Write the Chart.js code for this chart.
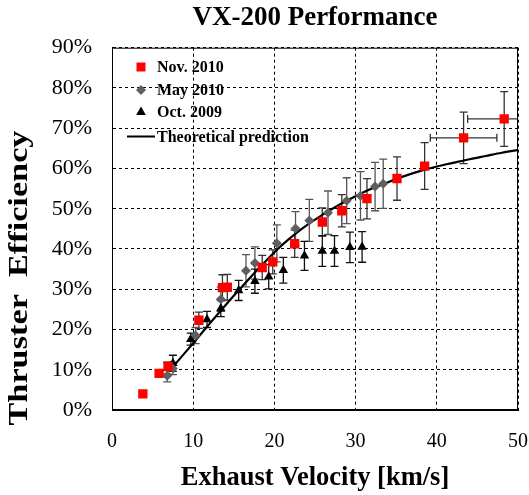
<!DOCTYPE html>
<html>
<head>
<meta charset="utf-8">
<script src="https://cdn.jsdelivr.net/npm/chart.js@4.4.1/dist/chart.umd.min.js"></script>
<style>
  html, body { margin: 0; padding: 0; background: #fff; }
  canvas { display: block; }
</style>
</head>
<body>
<canvas id="perfChart" width="529" height="495"></canvas>
<script>
// Nov. 2010 (red squares)
const novX    = [3.8, 5.8, 6.9, 10.7, 13.6, 14.2, 18.5, 19.8, 22.5, 25.9, 28.3, 31.4, 35.1, 38.5, 43.3, 48.3];
const novY    = [4.0, 9.1, 10.8, 22.3, 30.4, 30.5, 35.4, 36.8, 41.3, 46.7, 49.5, 52.5, 57.5, 60.6, 67.6, 72.3];
const novErrY = [0, 0, 0, 2.0, 3.2, 3.2, 3.0, 3.0, 3.4, 3.5, 4.0, 5.0, 5.4, 5.8, 6.4, 6.8];
const novErrX = [0, 0, 0, 0, 0, 0, 0, 0, 0, 0, 0, 0, 0, 0, 4.1, 4.5];

// May 2010 (grey diamonds)
const mayX    = [6.8, 7.5, 10.3, 13.4, 16.5, 17.6, 20.3, 22.6, 24.3, 26.6, 28.9, 30.6, 32.4, 33.4];
const mayY    = [8.5, 10.3, 18.5, 27.5, 34.6, 36.5, 41.4, 45.1, 47.1, 49.0, 52.0, 53.2, 55.5, 56.2];
const mayErrY = [1.5, 1.5, 2.0, 3.0, 4.0, 4.0, 4.6, 4.2, 5.2, 5.4, 5.7, 6.0, 6.0, 6.1];

// Oct. 2009 (black triangles)
const octX    = [6.8, 7.5, 9.7, 11.7, 13.4, 15.6, 17.6, 19.3, 21.1, 23.7, 25.9, 27.4, 29.3, 30.8];
const octY    = [10.4, 11.6, 17.6, 22.5, 25.2, 29.7, 32.0, 33.1, 34.7, 38.3, 39.5, 39.5, 40.4, 40.5];
const octErrY = [1.5, 2.0, 1.5, 2.0, 2.0, 2.5, 3.0, 3.0, 3.2, 3.6, 3.8, 3.8, 3.8, 3.8];

// Theoretical prediction curve
const theoryX = [7, 8, 10, 12, 14, 16, 18, 20, 22, 24, 26, 28, 30, 32, 34, 36, 38, 40, 42, 44, 46, 48, 50];
const theoryY = [9.5, 11.9, 16.6, 21.4, 26.1, 30.6, 35.0, 39.2, 42.8, 45.9, 48.6, 51.0, 53.1, 55.0, 56.6, 58.1, 59.4, 60.5, 61.4, 62.3, 63.1, 63.9, 64.6];

const xTicks = [0, 10, 20, 30, 40, 50];
const yTicks = [0, 10, 20, 30, 40, 50, 60, 70, 80, 90];

const toPoints = (xs, ys) => xs.map((x, i) => ({ x: x, y: ys[i] }));
const SERIF = '"Liberation Serif", "Times New Roman", serif';

// error bars, drawn under the markers
const errorBars = {
  id: 'errorBars',
  beforeDatasetsDraw(chart) {
    const ctx = chart.ctx;
    const xs = chart.scales.x, ys = chart.scales.y;
    const area = chart.chartArea;
    ctx.save();
    ctx.beginPath();
    ctx.rect(area.left, area.top, area.right - area.left, area.bottom - area.top);
    ctx.clip();
    chart.data.datasets.forEach(ds => {
      if (!ds.errY) return;
      ctx.strokeStyle = ds.errColor;
      ctx.lineWidth = 1.3;
      ds.data.forEach((p, i) => {
        const px = xs.getPixelForValue(p.x);
        const py = ys.getPixelForValue(p.y);
        const ey = ds.errY[i];
        if (ey > 0) {
          const top = ys.getPixelForValue(p.y + ey);
          const bot = ys.getPixelForValue(p.y - ey);
          ctx.beginPath();
          ctx.moveTo(px, top); ctx.lineTo(px, bot);
          ctx.moveTo(px - 4, top); ctx.lineTo(px + 4, top);
          ctx.moveTo(px - 4, bot); ctx.lineTo(px + 4, bot);
          ctx.stroke();
        }
        const ex = ds.errX ? ds.errX[i] : 0;
        if (ex > 0) {
          const l = xs.getPixelForValue(p.x - ex);
          const r = xs.getPixelForValue(p.x + ex);
          ctx.beginPath();
          ctx.moveTo(l, py); ctx.lineTo(r, py);
          ctx.moveTo(l, py - 4); ctx.lineTo(l, py + 4);
          ctx.moveTo(r, py - 4); ctx.lineTo(r, py + 4);
          ctx.stroke();
        }
      });
    });
    ctx.restore();
  }
};

// frame, legend box inside the plot and rotated y title
const extras = {
  id: 'extras',
  afterDraw(chart) {
    const ctx = chart.ctx;
    const a = chart.chartArea;
    ctx.save();
    ctx.strokeStyle = '#000';
    ctx.lineWidth = 1;
    ctx.strokeRect(a.left + 0.5, a.top + 0.5, a.right - a.left - 1, a.bottom - a.top - 1);

    // legend
    const rows = [67, 90, 112, 136.5];
    ctx.font = 'bold 16px ' + SERIF;
    ctx.textBaseline = 'middle';
    ctx.textAlign = 'left';
    chart.data.datasets.forEach((ds, i) => {
      const y = rows[i], x = 141;
      ctx.fillStyle = ds.backgroundColor;
      ctx.beginPath();
      if (ds.pointStyle === 'rect') {
        ctx.rect(x - 4.5, y - 4.5, 9, 9);
        ctx.fill();
      } else if (ds.pointStyle === 'rectRot') {
        ctx.moveTo(x - 5, y); ctx.lineTo(x, y - 5); ctx.lineTo(x + 5, y); ctx.lineTo(x, y + 5);
        ctx.closePath(); ctx.fill();
      } else if (ds.pointStyle === 'triangle') {
        ctx.moveTo(x, y - 5.5); ctx.lineTo(x + 4.8, y + 3); ctx.lineTo(x - 4.8, y + 3);
        ctx.closePath(); ctx.fill();
      } else {
        ctx.strokeStyle = ds.borderColor;
        ctx.lineWidth = 2;
        ctx.moveTo(127, y); ctx.lineTo(155, y);
        ctx.stroke();
      }
      ctx.fillStyle = '#000';
      ctx.fillText(ds.label, 157, y + 1);
    });

    // y axis title
    ctx.translate(20, 278);
    ctx.rotate(-Math.PI / 2);
    ctx.font = 'bold 27px ' + SERIF;
    const w = ctx.measureText('Thruster  Efficiency').width;
    ctx.scale(295 / w, 1);
    ctx.textAlign = 'center';
    ctx.fillStyle = '#000';
    ctx.fillText('Thruster  Efficiency', 0, 0);
    ctx.restore();
  }
};

new Chart(document.getElementById('perfChart'), {
  type: 'scatter',
  data: {
    datasets: [
      {
        label: 'Nov. 2010',
        data: toPoints(novX, novY),
        errY: novErrY, errX: novErrX, errColor: '#333',
        pointStyle: 'rect', pointRadius: 6.6, pointHoverRadius: 6.6,
        backgroundColor: '#ff0000', borderColor: '#ff0000', borderWidth: 0
      },
      {
        label: 'May 2010',
        data: toPoints(mayX, mayY),
        errY: mayErrY, errColor: '#555',
        pointStyle: 'rectRot', pointRadius: 5, pointHoverRadius: 5,
        backgroundColor: '#5f5f5f', borderColor: '#5f5f5f', borderWidth: 0
      },
      {
        label: 'Oct. 2009',
        data: toPoints(octX, octY),
        errY: octErrY, errColor: '#111',
        pointStyle: 'triangle', pointRadius: 5.5, pointHoverRadius: 5.5,
        backgroundColor: '#000', borderColor: '#000', borderWidth: 0
      },
      {
        label: 'Theoretical prediction',
        type: 'line',
        data: toPoints(theoryX, theoryY),
        borderColor: '#000', backgroundColor: '#000', borderWidth: 2.2,
        pointRadius: 0, cubicInterpolationMode: 'monotone', fill: false
      }
    ]
  },
  plugins: [errorBars, extras],
  options: {
    responsive: false,
    animation: false,
    layout: { padding: { left: 0, right: 11, top: 0, bottom: 0 } },
    plugins: {
      legend: { display: false },
      tooltip: { enabled: false },
      title: {
        display: true,
        text: 'VX-200 Performance',
        fullSize: false,
        color: '#000',
        font: { family: SERIF, size: 27, weight: 'bold', lineHeight: 1.1 },
        padding: { top: 3, bottom: 15 }
      }
    },
    scales: {
      x: {
        type: 'linear', min: 0, max: 50,
        afterBuildTicks: s => { s.ticks = xTicks.map(v => ({ value: v })); },
        afterFit: s => { s.height = 85; s.paddingLeft = 0; s.paddingRight = 0; },
        grid: { color: '#000', lineWidth: 1, drawTicks: false },
        border: { display: true, color: '#000', dash: [3, 3] },
        ticks: { color: '#000', padding: 20, font: { family: SERIF, size: 20 } },
        title: {
          display: true, text: 'Exhaust Velocity [km/s]', color: '#000',
          font: { family: SERIF, size: 26.5, weight: 'bold' },
          padding: { top: 0, bottom: 1 }
        }
      },
      y: {
        type: 'linear', min: 0, max: 90,
        afterBuildTicks: s => { s.ticks = yTicks.map(v => ({ value: v })); },
        afterFit: s => { s.width = 112; s.paddingTop = 0; s.paddingBottom = 0; },
        grid: { color: '#000', lineWidth: 1, drawTicks: false },
        border: { display: true, color: '#000', dash: [3, 3] },
        ticks: { color: '#000', padding: 20, font: { family: SERIF, size: 22 }, callback: v => v + '%' }
      }
    }
  }
});
</script>
</body>
</html>
